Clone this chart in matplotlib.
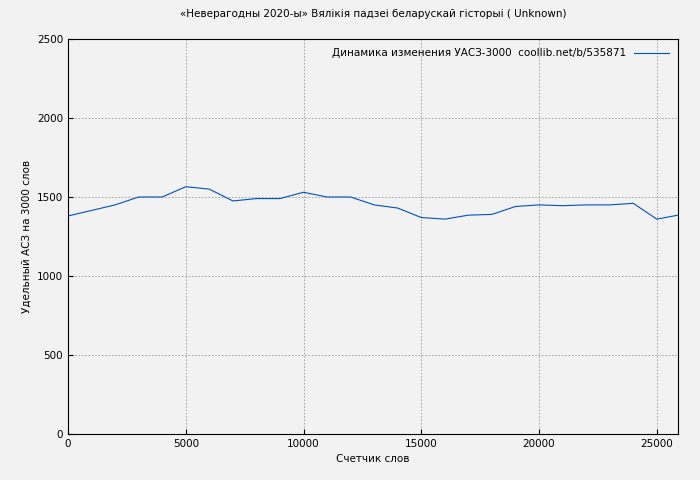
import matplotlib
matplotlib.use('Agg')
import matplotlib.pyplot as plt

words = [0, 1000, 2000, 3000, 4000, 5000, 6000, 7000, 8000, 9000, 10000, 11000, 12000,
         13000, 14000, 15000, 16000, 17000, 18000, 19000, 20000, 21000, 22000, 23000,
         24000, 25000, 25900]
asz = [1380, 1415, 1450, 1500, 1500, 1565, 1550, 1475, 1490, 1490, 1530, 1500, 1500,
       1450, 1430, 1370, 1360, 1385, 1390, 1440, 1450, 1445, 1450, 1450, 1460, 1360, 1385]

fig = plt.figure(figsize=(7, 4.8), dpi=100, facecolor='#f2f2f2')
ax = fig.add_axes([68/700, 46/480, 610/700, 395/480], facecolor='#f2f2f2')
ax.plot(words, asz, color='#0050c0', lw=0.8,
        label='Динамика изменения УАСЗ-3000  coollib.net/b/535871')
ax.set_xlim(0, 25900)
ax.set_ylim(0, 2500)
ax.set_xticks(range(0, 25001, 5000))
ax.set_yticks(range(0, 2501, 500))
ax.grid(True, color='#999999', ls=(0, (2, 2)), lw=0.6)
ax.tick_params(labelsize=7.5, direction='in')
for s in ax.spines.values():
    s.set_color('black')
ax.set_xlabel('Счетчик слов', fontsize=7.5)
ax.set_ylabel('Удельный АСЗ на 3000 слов', fontsize=7.5)
ax.set_title('«Неверагодны 2020-ы» Вялікія падзеі беларускай гісторыі ( Unknown)', fontsize=7.5, pad=16)
ax.legend(loc='upper right', frameon=False, fontsize=7.5, markerfirst=False, handlelength=3.3)
fig.savefig('out.png', facecolor=fig.get_facecolor())
